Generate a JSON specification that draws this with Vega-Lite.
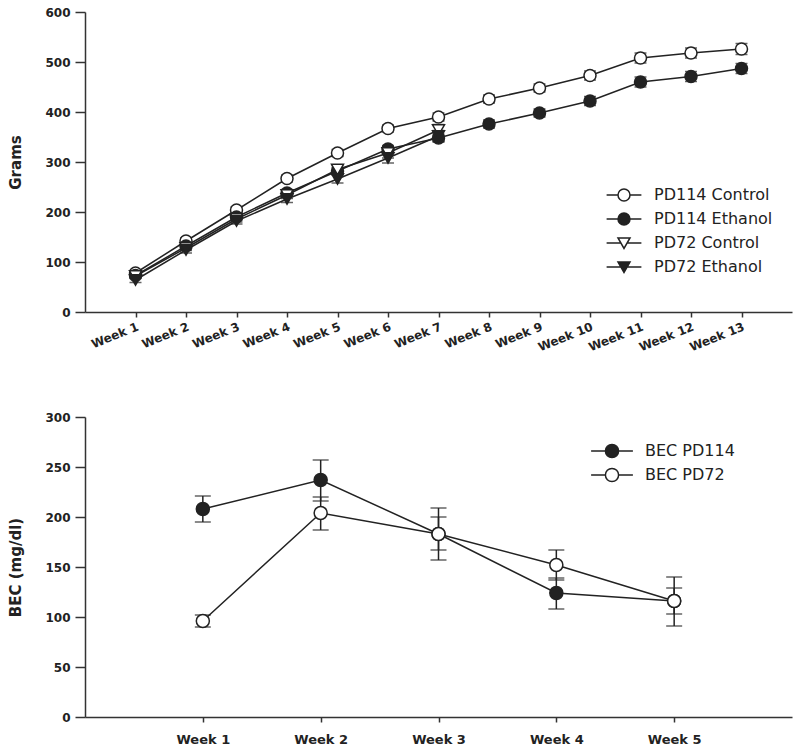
{
  "$schema": "https://vega.github.io/schema/vega-lite/v6.json",
  "padding": {"top": 6, "left": 8, "right": 8, "bottom": 4},
  "background": "white",
  "spacing": 58,
  "config": {
    "font": "DejaVu Sans",
    "view": {"stroke": null},
    "axis": {
      "grid": false,
      "domainColor": "#333",
      "domainWidth": 1.5,
      "tickColor": "#333",
      "tickWidth": 1.5,
      "labelFont": "DejaVu Sans",
      "labelFontWeight": "bold",
      "labelColor": "#222",
      "titleFont": "DejaVu Sans",
      "titleFontWeight": "bold",
      "titleColor": "#222"
    },
    "legend": {"labelFont": "DejaVu Sans", "labelColor": "#222"}
  },
  "datasets": {
    "weights": [
      {"group": "PD114 Control", "week": "Week 1", "grams": 78, "lo": 73, "hi": 83},
      {"group": "PD114 Control", "week": "Week 2", "grams": 142, "lo": 136, "hi": 148},
      {"group": "PD114 Control", "week": "Week 3", "grams": 204, "lo": 198, "hi": 210},
      {"group": "PD114 Control", "week": "Week 4", "grams": 267, "lo": 260, "hi": 274},
      {"group": "PD114 Control", "week": "Week 5", "grams": 318, "lo": 311, "hi": 325},
      {"group": "PD114 Control", "week": "Week 6", "grams": 367, "lo": 360, "hi": 374},
      {"group": "PD114 Control", "week": "Week 7", "grams": 390, "lo": 382, "hi": 398},
      {"group": "PD114 Control", "week": "Week 8", "grams": 426, "lo": 418, "hi": 434},
      {"group": "PD114 Control", "week": "Week 9", "grams": 448, "lo": 440, "hi": 456},
      {"group": "PD114 Control", "week": "Week 10", "grams": 473, "lo": 464, "hi": 482},
      {"group": "PD114 Control", "week": "Week 11", "grams": 508, "lo": 498, "hi": 518},
      {"group": "PD114 Control", "week": "Week 12", "grams": 518, "lo": 508, "hi": 528},
      {"group": "PD114 Control", "week": "Week 13", "grams": 526, "lo": 515, "hi": 537},
      {"group": "PD114 Ethanol", "week": "Week 1", "grams": 73, "lo": 68, "hi": 78},
      {"group": "PD114 Ethanol", "week": "Week 2", "grams": 132, "lo": 126, "hi": 138},
      {"group": "PD114 Ethanol", "week": "Week 3", "grams": 190, "lo": 184, "hi": 196},
      {"group": "PD114 Ethanol", "week": "Week 4", "grams": 238, "lo": 231, "hi": 245},
      {"group": "PD114 Ethanol", "week": "Week 5", "grams": 282, "lo": 275, "hi": 289},
      {"group": "PD114 Ethanol", "week": "Week 6", "grams": 326, "lo": 319, "hi": 333},
      {"group": "PD114 Ethanol", "week": "Week 7", "grams": 348, "lo": 340, "hi": 356},
      {"group": "PD114 Ethanol", "week": "Week 8", "grams": 376, "lo": 368, "hi": 384},
      {"group": "PD114 Ethanol", "week": "Week 9", "grams": 398, "lo": 390, "hi": 406},
      {"group": "PD114 Ethanol", "week": "Week 10", "grams": 422, "lo": 413, "hi": 431},
      {"group": "PD114 Ethanol", "week": "Week 11", "grams": 460, "lo": 450, "hi": 470},
      {"group": "PD114 Ethanol", "week": "Week 12", "grams": 471, "lo": 461, "hi": 481},
      {"group": "PD114 Ethanol", "week": "Week 13", "grams": 487, "lo": 477, "hi": 497},
      {"group": "PD72 Control", "week": "Week 1", "grams": 72, "lo": 67, "hi": 77},
      {"group": "PD72 Control", "week": "Week 2", "grams": 128, "lo": 123, "hi": 133},
      {"group": "PD72 Control", "week": "Week 3", "grams": 186, "lo": 180, "hi": 192},
      {"group": "PD72 Control", "week": "Week 4", "grams": 234, "lo": 227, "hi": 241},
      {"group": "PD72 Control", "week": "Week 5", "grams": 285, "lo": 277, "hi": 293},
      {"group": "PD72 Control", "week": "Week 6", "grams": 318, "lo": 308, "hi": 328},
      {"group": "PD72 Control", "week": "Week 7", "grams": 364, "lo": 353, "hi": 375},
      {"group": "PD72 Ethanol", "week": "Week 1", "grams": 64, "lo": 59, "hi": 69},
      {"group": "PD72 Ethanol", "week": "Week 2", "grams": 124, "lo": 118, "hi": 130},
      {"group": "PD72 Ethanol", "week": "Week 3", "grams": 182, "lo": 176, "hi": 188},
      {"group": "PD72 Ethanol", "week": "Week 4", "grams": 226, "lo": 219, "hi": 233},
      {"group": "PD72 Ethanol", "week": "Week 5", "grams": 266, "lo": 258, "hi": 274},
      {"group": "PD72 Ethanol", "week": "Week 6", "grams": 308, "lo": 298, "hi": 318},
      {"group": "PD72 Ethanol", "week": "Week 7", "grams": 352, "lo": 341, "hi": 363}
    ],
    "bec": [
      {"group": "BEC PD114", "week": "Week 1", "bec": 208, "lo": 195, "hi": 221},
      {"group": "BEC PD114", "week": "Week 2", "bec": 237, "lo": 216, "hi": 257},
      {"group": "BEC PD114", "week": "Week 3", "bec": 183, "lo": 167, "hi": 200},
      {"group": "BEC PD114", "week": "Week 4", "bec": 124, "lo": 108, "hi": 139},
      {"group": "BEC PD114", "week": "Week 5", "bec": 116, "lo": 103, "hi": 129},
      {"group": "BEC PD72", "week": "Week 1", "bec": 96, "lo": 90, "hi": 102},
      {"group": "BEC PD72", "week": "Week 2", "bec": 204, "lo": 187, "hi": 220},
      {"group": "BEC PD72", "week": "Week 3", "bec": 183, "lo": 157, "hi": 209},
      {"group": "BEC PD72", "week": "Week 4", "bec": 152, "lo": 137, "hi": 167},
      {"group": "BEC PD72", "week": "Week 5", "bec": 116, "lo": 91, "hi": 140}
    ]
  },
  "vconcat": [
    {
      "width": 707,
      "height": 300,
      "data": {"name": "weights"},
      "encoding": {
        "x": {
          "field": "week", "type": "nominal",
          "scale": {"type": "point", "padding": 1, "domain": ["Week 1","Week 2","Week 3","Week 4","Week 5","Week 6","Week 7","Week 8","Week 9","Week 10","Week 11","Week 12","Week 13"]},
          "axis": {"title": null, "labelAngle": -22, "labelAlign": "right", "labelBaseline": "top", "labelFontSize": 12, "tickSize": 5, "labelPadding": 4}
        }
      },
      "layer": [
        {
          "mark": {"type": "rule", "color": "#222", "strokeWidth": 1.5},
          "encoding": {
            "y": {"field": "lo", "type": "quantitative", "scale": {"domain": [0, 600], "nice": false},
              "axis": {"title": "Grams", "values": [0,100,200,300,400,500,600], "tickSize": 10, "labelFontSize": 12, "labelPadding": 5, "titleFontSize": 15, "titlePadding": 21}},
            "y2": {"field": "hi"},
            "detail": {"field": "group"}
          }
        },
        {
          "mark": {"type": "tick", "color": "#222", "thickness": 1.5, "size": 12},
          "encoding": {"y": {"field": "lo", "type": "quantitative"}, "detail": {"field": "group"}}
        },
        {
          "mark": {"type": "tick", "color": "#222", "thickness": 1.5, "size": 12},
          "encoding": {"y": {"field": "hi", "type": "quantitative"}, "detail": {"field": "group"}}
        },
        {
          "mark": {"type": "line", "color": "#222", "strokeWidth": 1.5},
          "encoding": {"y": {"field": "grams", "type": "quantitative"}, "detail": {"field": "group"}}
        },
        {
          "mark": {"type": "point", "filled": true, "stroke": "#222", "strokeWidth": 1.5, "opacity": 1, "size": 144},
          "encoding": {
            "y": {"field": "grams", "type": "quantitative"},
            "shape": {"field": "group", "type": "nominal", "legend": null,
              "scale": {"domain": ["PD114 Control","PD114 Ethanol","PD72 Control","PD72 Ethanol"], "range": ["circle","circle","triangle-down","triangle-down"]}},
            "fill": {"field": "group", "type": "nominal", "legend": null,
              "scale": {"domain": ["PD114 Control","PD114 Ethanol","PD72 Control","PD72 Ethanol"], "range": ["white","#222","white","#222"]}}
          }
        },
        {
          "transform": [{"filter": "false"}],
          "mark": {"type": "point", "filled": true, "stroke": "#222", "strokeWidth": 1.5, "opacity": 1},
          "encoding": {
            "y": {"field": "grams", "type": "quantitative"},
            "shape": {"field": "group", "type": "nominal",
              "scale": {"domain": ["PD114 Control","PD114 Ethanol","PD72 Control","PD72 Ethanol"],
                "range": [
                  "M-1.45,0H-0.5M0.5,0H1.45M0.5,0A0.5,0.5,0,1,1,-0.5,0A0.5,0.5,0,1,1,0.5,0Z",
                  "M-1.45,0H-0.5M0.5,0H1.45M0.5,0A0.5,0.5,0,1,1,-0.5,0A0.5,0.5,0,1,1,0.5,0Z",
                  "M-1.45,0H-0.28M0.28,0H1.45M-0.5,-0.42L0.5,-0.42L0,0.45Z",
                  "M-1.45,0H-0.28M0.28,0H1.45M-0.5,-0.42L0.5,-0.42L0,0.45Z"]},
              "legend": {"title": null, "orient": "none", "legendX": 526, "legendY": 170, "symbolSize": 576, "labelFontSize": 16, "labelOffset": 17, "rowPadding": 2, "padding": 0,
                "encode": {"symbols": {"update": {"stroke": {"value": "#222"}, "strokeWidth": {"value": 1.5}}}}}},
            "fill": {"field": "group", "type": "nominal",
              "scale": {"domain": ["PD114 Control","PD114 Ethanol","PD72 Control","PD72 Ethanol"], "range": ["white","#222","white","#222"]},
              "legend": {"title": null, "orient": "none", "legendX": 526, "legendY": 170, "symbolSize": 576, "labelFontSize": 16, "labelOffset": 17, "rowPadding": 2, "padding": 0,
                "encode": {"symbols": {"update": {"stroke": {"value": "#222"}, "strokeWidth": {"value": 1.5}}}}}}
          }
        }
      ],
      "resolve": {"scale": {"shape": "independent", "fill": "independent"}}
    },
    {
      "width": 707,
      "height": 300,
      "data": {"name": "bec"},
      "encoding": {
        "x": {
          "field": "week", "type": "nominal",
          "scale": {"type": "point", "padding": 1, "domain": ["Week 1","Week 2","Week 3","Week 4","Week 5"]},
          "axis": {"title": null, "labelAngle": 0, "labelFontSize": 13, "tickSize": 5, "labelPadding": 11}
        }
      },
      "layer": [
        {
          "mark": {"type": "rule", "color": "#222", "strokeWidth": 1.5},
          "encoding": {
            "y": {"field": "lo", "type": "quantitative", "scale": {"domain": [0, 300], "nice": false},
              "axis": {"title": "BEC (mg/dl)", "values": [0,50,100,150,200,250,300], "tickSize": 10, "labelFontSize": 12, "labelPadding": 5, "titleFontSize": 15, "titlePadding": 21}},
            "y2": {"field": "hi"},
            "detail": {"field": "group"}
          }
        },
        {
          "mark": {"type": "tick", "color": "#222", "thickness": 1.5, "size": 16},
          "encoding": {"y": {"field": "lo", "type": "quantitative"}, "detail": {"field": "group"}}
        },
        {
          "mark": {"type": "tick", "color": "#222", "thickness": 1.5, "size": 16},
          "encoding": {"y": {"field": "hi", "type": "quantitative"}, "detail": {"field": "group"}}
        },
        {
          "mark": {"type": "line", "color": "#222", "strokeWidth": 1.5},
          "encoding": {"y": {"field": "bec", "type": "quantitative"}, "detail": {"field": "group"}}
        },
        {
          "mark": {"type": "point", "filled": true, "stroke": "#222", "strokeWidth": 1.5, "opacity": 1, "size": 170},
          "encoding": {
            "y": {"field": "bec", "type": "quantitative"},
            "shape": {"field": "group", "type": "nominal", "legend": null,
              "scale": {"domain": ["BEC PD114","BEC PD72"], "range": ["circle","circle"]}},
            "fill": {"field": "group", "type": "nominal", "legend": null,
              "scale": {"domain": ["BEC PD114","BEC PD72"], "range": ["#222","white"]}}
          }
        },
        {
          "transform": [{"filter": "false"}],
          "mark": {"type": "point", "filled": true, "stroke": "#222", "strokeWidth": 1.5, "opacity": 1},
          "encoding": {
            "y": {"field": "bec", "type": "quantitative"},
            "shape": {"field": "group", "type": "nominal",
              "scale": {"domain": ["BEC PD114","BEC PD72"],
                "range": [
                  "M-1.9,0H-0.6M0.6,0H1.9M0.6,0A0.6,0.6,0,1,1,-0.6,0A0.6,0.6,0,1,1,0.6,0Z",
                  "M-1.9,0H-0.6M0.6,0H1.9M0.6,0A0.6,0.6,0,1,1,-0.6,0A0.6,0.6,0,1,1,0.6,0Z"]},
              "legend": {"title": null, "orient": "none", "legendX": 515, "legendY": 22, "symbolSize": 484, "labelFontSize": 16, "labelOffset": 21, "rowPadding": 2, "padding": 0,
                "encode": {"symbols": {"update": {"stroke": {"value": "#222"}, "strokeWidth": {"value": 1.5}}}}}},
            "fill": {"field": "group", "type": "nominal",
              "scale": {"domain": ["BEC PD114","BEC PD72"], "range": ["#222","white"]},
              "legend": {"title": null, "orient": "none", "legendX": 515, "legendY": 22, "symbolSize": 484, "labelFontSize": 16, "labelOffset": 21, "rowPadding": 2, "padding": 0,
                "encode": {"symbols": {"update": {"stroke": {"value": "#222"}, "strokeWidth": {"value": 1.5}}}}}}
          }
        }
      ],
      "resolve": {"scale": {"shape": "independent", "fill": "independent"}}
    }
  ]
}
